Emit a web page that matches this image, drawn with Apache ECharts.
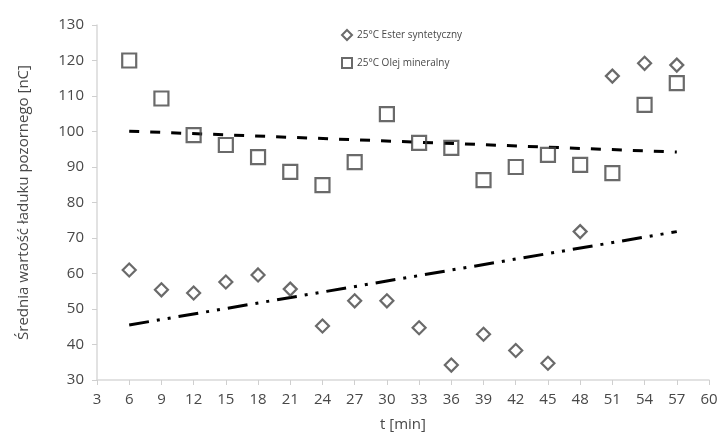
<!DOCTYPE html>
<html><head><meta charset="utf-8">
<script src="https://cdn.jsdelivr.net/npm/echarts@6/dist/echarts.min.js"></script>
<style>html,body{margin:0;padding:0;background:#fff}#c{width:723px;height:437px}</style>
</head><body><div id="c"></div>
<script>
const times = [6, 9, 12, 15, 18, 21, 24, 27, 30, 33, 36, 39, 42, 45, 48, 51, 54, 57];
const esterValues = [61, 55.4, 54.5, 57.6, 59.6, 55.6, 45.2, 52.3, 52.3, 44.7, 34.2, 42.9, 38.3, 34.7, 71.8, 115.6, 119.2, 118.7];
const oilValues = [120, 109.3, 99, 96.2, 92.8, 88.6, 84.9, 91.4, 104.9, 96.8, 95.4, 86.3, 90, 93.4, 90.6, 88.3, 107.5, 113.6];
const esterTrendX = [6, 57];
const esterTrendY = [45.5, 71.8];
const oilTrendX = [6, 57];
const oilTrendY = [100.1, 94.2];
const esterName = '25°C Ester syntetyczny';
const oilName = '25°C Olej mineralny';
const yAxisTitle = 'Średnia wartość ładuku pozornego [nC]';
const xAxisTitle = 't [min]';

const pairs = (xs, ys) => xs.map((x, i) => [x, ys[i]]);
const font = 'Open Sans, Noto Sans, sans-serif';
const txt = '#484848';
const chart = echarts.init(document.getElementById('c'), null, {renderer: 'canvas'});
chart.setOption({
  animation: false,
  backgroundColor: '#fff',
  grid: {left: 97, right: 14, top: 25, bottom: 57, containLabel: false},
  legend: {
    orient: 'vertical', left: 336, top: 24, itemGap: 16, itemWidth: 10, itemHeight: 10,
    data: [esterName, oilName],
    textStyle: {fontSize: 10, color: txt, fontFamily: font}
  },
  xAxis: {
    type: 'value', min: 3, max: 60, interval: 3,
    name: xAxisTitle, nameLocation: 'middle', nameGap: 37,
    nameTextStyle: {fontSize: 15, color: txt, fontFamily: font},
    axisLine: {lineStyle: {color: '#d9d9d9', width: 1.5}},
    axisTick: {show: true, length: 5, lineStyle: {color: '#cfcfcf'}},
    axisLabel: {fontSize: 15, color: txt, fontFamily: font, margin: 12},
    splitLine: {show: false}
  },
  yAxis: {
    type: 'value', min: 30, max: 130, interval: 10,
    name: yAxisTitle, nameLocation: 'middle', nameGap: 66, nameRotate: 90,
    nameTextStyle: {fontSize: 15, color: txt, fontFamily: font},
    axisLine: {show: true, lineStyle: {color: '#d9d9d9', width: 1.5}},
    axisTick: {show: true, length: 5, lineStyle: {color: '#cfcfcf'}},
    axisLabel: {fontSize: 15, color: txt, fontFamily: font, margin: 13},
    splitLine: {show: false}
  },
  series: [
    {
      name: esterName, type: 'scatter', symbol: 'diamond', symbolSize: 13,
      data: pairs(times, esterValues),
      itemStyle: {color: '#fff', borderColor: '#454545', borderWidth: 2.2}, z: 3
    },
    {
      name: oilName, type: 'scatter', symbol: 'rect', symbolSize: 14,
      data: pairs(times, oilValues),
      itemStyle: {color: 'rgba(255,255,255,0)', borderColor: '#454545', borderWidth: 2.2}, z: 3
    },
    {
      name: 'esterTrend', type: 'line', symbol: 'none', data: pairs(esterTrendX, esterTrendY),
      lineStyle: {color: '#000', width: 3, type: [20, 8, 3, 8, 3, 8]}, z: 2
    },
    {
      name: 'oilTrend', type: 'line', symbol: 'none', data: pairs(oilTrendX, oilTrendY),
      lineStyle: {color: '#000', width: 3, type: [10, 11]}, z: 2
    }
  ]
});
</script></body></html>
